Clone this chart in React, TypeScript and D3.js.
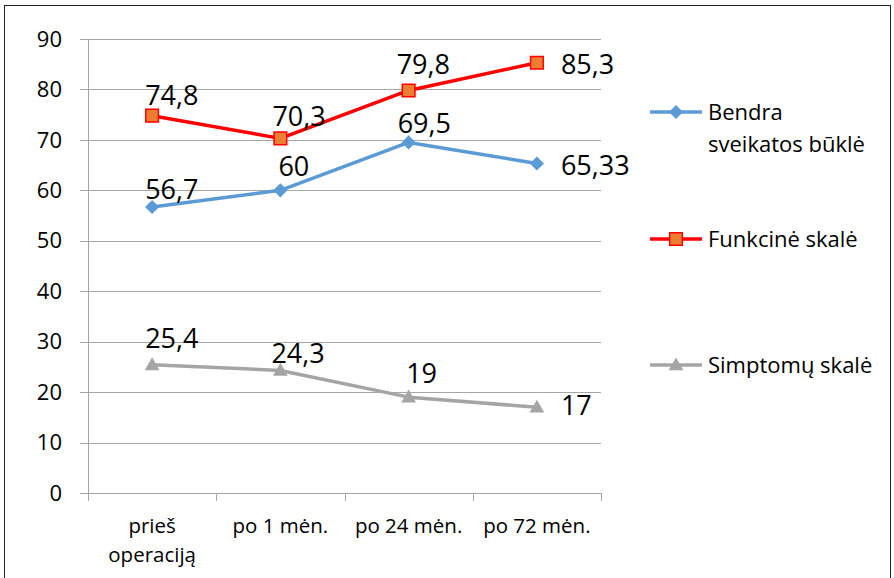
import React from 'react';
import * as d3 from 'd3';

const categories = ['prieš operaciją', 'po 1 mėn.', 'po 24 mėn.', 'po 72 mėn.'];
const categoryLines = [['prieš', 'operaciją'], ['po 1 mėn.'], ['po 24 mėn.'], ['po 72 mėn.']];
const bendra = [56.7, 60, 69.5, 65.33];
const funkcine = [74.8, 70.3, 79.8, 85.3];
const simptomu = [25.4, 24.3, 19, 17];
const bendraLabels = ['56,7', '60', '69,5', '65,33'];
const funkcineLabels = ['74,8', '70,3', '79,8', '85,3'];
const simptomuLabels = ['25,4', '24,3', '19', '17'];
const yTicks = [0, 10, 20, 30, 40, 50, 60, 70, 80, 90];

// label placement relative to the marker (text-anchor start)
const bendraLabelPos = [[-7, -8], [-2, -14], [-11, -9], [24, 11.5]];
const funkcineLabelPos = [[-7, -10.5], [-8, -12.5], [-12, -16.5], [24, 11.5]];
const simptomuLabelPos = [[-7, -16.5], [-9, -7], [-2.5, -14], [24, 8]];

const width = 894;
const height = 578;
const font = '"Open Sans", "DejaVu Sans", sans-serif';

const series = [
  { name: ['Bendra', 'sveikatos būklė'], values: bendra, labels: bendraLabels, pos: bendraLabelPos, color: '#5B9BD5', marker: 'diamond' },
  { name: ['Funkcinė skalė'], values: funkcine, labels: funkcineLabels, pos: funkcineLabelPos, color: '#FF0000', marker: 'square' },
  { name: ['Simptomų skalė'], values: simptomu, labels: simptomuLabels, pos: simptomuLabelPos, color: '#A5A5A5', marker: 'triangle' },
];
const legendY = [112, 239, 365];

function Marker({ type, x, y }: { type: string; x: number; y: number }) {
  if (type === 'diamond') {
    const d = d3.symbol().type(d3.symbolSquare).size(100)();
    return <path d={d || ''} transform={`translate(${x},${y}) rotate(45)`} fill="#5B9BD5" />;
  }
  if (type === 'square') {
    const d = d3.symbol().type(d3.symbolSquare).size(160)();
    return <path d={d || ''} transform={`translate(${x},${y})`} fill="#ED7D31" stroke="#FF0000" strokeWidth={1.5} />;
  }
  const d = d3.symbol().type(d3.symbolTriangle).size(95)();
  return <path d={d || ''} transform={`translate(${x},${y + 1})`} fill="#A5A5A5" />;
}

export default function App() {
  const x = d3.scaleBand().domain(categories).range([88, 601]).padding(0);
  const y = d3.scaleLinear().domain([0, 90]).range([493, 39]);
  const cx = (c: string) => (x(c) || 0) + x.bandwidth() / 2;
  const line = d3
    .line<number>()
    .x((_, i) => cx(categories[i]))
    .y(d => y(d));
  const bounds = [...categories.map(c => x(c) || 0), 601];

  return (
    <svg width={width} height={height} style={{ position: 'absolute', left: 0, top: 0 }} fontFamily={font}>
      <rect x={0} y={0} width={width} height={height} fill="#fff" />
      <rect x={4.5} y={5.5} width={886} height={590} fill="none" stroke="#222" strokeWidth={1} />
      {yTicks.map(t => (
        <g key={t}>
          <line x1={80} x2={601} y1={Math.round(y(t)) + 0.5} y2={Math.round(y(t)) + 0.5} stroke="#A6A6A6" strokeWidth={1} />
          <text x={62} y={y(t)} dy="0.35em" textAnchor="end" fontSize={22} fill="#000">
            {t}
          </text>
        </g>
      ))}
      <line x1={88.5} x2={88.5} y1={39} y2={493} stroke="#A6A6A6" />
      {bounds.map((b, i) => (
        <line key={i} x1={Math.round(b) + 0.5} x2={Math.round(b) + 0.5} y1={493} y2={501} stroke="#A6A6A6" />
      ))}
      {categories.map((c, i) => (
        <text key={c} x={cx(c)} y={533} textAnchor="middle" fontSize={20.5} fill="#000">
          {categoryLines[i].map((l, j) => (
            <tspan key={j} x={cx(c)} dy={j === 0 ? 0 : 29}>
              {l}
            </tspan>
          ))}
        </text>
      ))}
      {series.map(s => (
        <g key={s.name[0]}>
          <path d={line(s.values) || ''} fill="none" stroke={s.color} strokeWidth={3.5} strokeLinejoin="round" strokeLinecap="round" />
          {s.values.map((v, i) => (
            <Marker key={i} type={s.marker} x={cx(categories[i])} y={y(v)} />
          ))}
          {s.values.map((v, i) => (
            <text key={'l' + i} x={cx(categories[i]) + s.pos[i][0]} y={y(v) + s.pos[i][1]} fontSize={27} fill="#000">
              {s.labels[i]}
            </text>
          ))}
        </g>
      ))}
      {series.map((s, k) => (
        <g key={'leg' + k}>
          <line x1={650} x2={702} y1={legendY[k]} y2={legendY[k]} stroke={s.color} strokeWidth={3.5} />
          <Marker type={s.marker} x={676} y={legendY[k]} />
          <text x={708} y={legendY[k] + 7.5} fontSize={22} fill="#000">
            {s.name.map((n, j) => (
              <tspan key={j} x={708} dy={j === 0 ? 0 : 32}>
                {n}
              </tspan>
            ))}
          </text>
        </g>
      ))}
    </svg>
  );
}
